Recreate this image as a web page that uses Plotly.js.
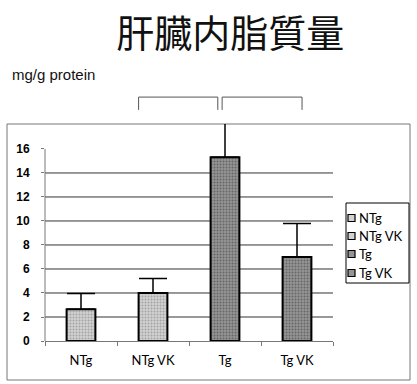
<!DOCTYPE html>
<html><head><meta charset="utf-8">
<script src="https://cdn.plot.ly/plotly-3.0.1.min.js"></script>
<style>html,body{margin:0;padding:0;background:#fff}#c{width:417px;height:384px}</style>
</head><body><div id="c"></div>
<script>
const categories = ['NTg', 'NTg VK', 'Tg', 'Tg VK'];
const values = [2.65, 4.0, 15.3, 7.0];
const errorsUp = [1.3, 1.2, 2.85, 2.8];
const yTicks = [0, 2, 4, 6, 8, 10, 12, 14, 16];
const gridValues = [2, 4, 6, 8, 10, 12, 14];

const fills = [
  {bg: '#d2d2d2', fg: '#a4a4a4'},
  {bg: '#d2d2d2', fg: '#a4a4a4'},
  {bg: '#959595', fg: '#666666'},
  {bg: '#959595', fg: '#666666'}
];

const traces = categories.map((c, i) => ({
  type: 'bar',
  name: c,
  x: [c],
  y: [values[i]],
  width: 0.4,
  marker: {
    color: fills[i].bg,
    line: {color: '#000', width: 2},
    pattern: {shape: '.', size: 3, solidity: 0.35, bgcolor: fills[i].bg, fgcolor: fills[i].fg}
  },
  error_y: {type: 'data', symmetric: false, array: [errorsUp[i]], arrayminus: [0],
            color: '#000', thickness: 1.5, width: 14},
  hoverinfo: 'skip'
}));

// pixel -> paper helpers for the plot area (45..333 x, 124..341 y)
const px = p => (p - 45) / 288;
const py = p => (341 - p) / 217;

const shapes = [];
gridValues.forEach(v => shapes.push({type: 'line', xref: 'paper', yref: 'y', x0: 0, x1: 1, y0: v, y1: v,
  line: {color: '#333', width: 1}, layer: 'below'}));
shapes.push({type: 'line', xref: 'paper', yref: 'y', x0: 0, x1: 0, y0: 0, y1: 16, line: {color: '#777', width: 1}});
shapes.push({type: 'rect', xref: 'paper', yref: 'paper', x0: px(7), x1: px(410), y0: py(380), y1: 1.0,
  line: {color: '#777', width: 1}, layer: 'below'});
const brackets = [[0.8, 1.9], [1.96, 3.07]];
brackets.forEach(b => shapes.push({type: 'path', xref: 'x', yref: 'paper',
  path: `M ${b[0]},1.065 L ${b[0]},1.124 L ${b[1]},1.124 L ${b[1]},1.065`,
  line: {color: '#555', width: 1}}));

// legend box (drawn compactly like the original)
shapes.push({type: 'rect', xref: 'paper', yref: 'paper', x0: px(346), x1: px(409), y0: py(283), y1: py(203),
  line: {color: '#000', width: 1}, fillcolor: '#fff'});
const legendY = [218, 236, 254, 273];
const annotations = [{text: 'mg/g protein', xref: 'paper', yref: 'paper', x: px(10), y: py(74),
  xanchor: 'left', yanchor: 'middle', showarrow: false,
  font: {family: 'Liberation Sans', size: 15, color: '#111'}}];
categories.forEach((c, i) => {
  const yc = legendY[i];
  shapes.push({type: 'rect', xref: 'paper', yref: 'paper', x0: px(348), x1: px(355), y0: py(yc + 3.5), y1: py(yc - 3.5),
    fillcolor: fills[i].bg, line: {color: '#000', width: 1.2}});
  annotations.push({text: c, xref: 'paper', yref: 'paper', x: px(357), y: py(yc), xanchor: 'left', yanchor: 'middle',
    showarrow: false, font: {family: 'Lato', size: 13, color: '#000'}});
});

const layout = {
  width: 417, height: 384,
  margin: {l: 45, r: 84, t: 124, b: 43, autoexpand: false},
  paper_bgcolor: '#fff', plot_bgcolor: '#fff',
  barmode: 'overlay',
  showlegend: false,
  title: {text: '肝臓内脂質量', x: 0.552, xanchor: 'center', y: 0.912, yanchor: 'middle',
          font: {family: 'Noto Sans CJK JP', size: 38, color: '#111', weight: 'normal'}},
  xaxis: {type: 'category', categoryorder: 'array', categoryarray: categories, range: [-0.5, 3.5],
          showline: true, linecolor: '#777', linewidth: 1, ticks: 'outside', tickson: 'boundaries',
          ticklen: 4, tickcolor: '#777', showgrid: false, zeroline: false, ticklabelstandoff: 7,
          tickfont: {family: 'Lato', size: 13, color: '#000'}},
  yaxis: {range: [0, 18.08], tickvals: yTicks, ticktext: yTicks.map(String), showgrid: false,
          zeroline: false, showline: false, ticks: 'outside', ticklen: 3, tickcolor: '#777',
          ticklabelstandoff: 9,
          tickfont: {family: 'Liberation Sans', size: 12, color: '#000', weight: 'bold'}},
  shapes: shapes,
  annotations: annotations
};
Plotly.newPlot('c', traces, layout, {staticPlot: true});
</script></body></html>
